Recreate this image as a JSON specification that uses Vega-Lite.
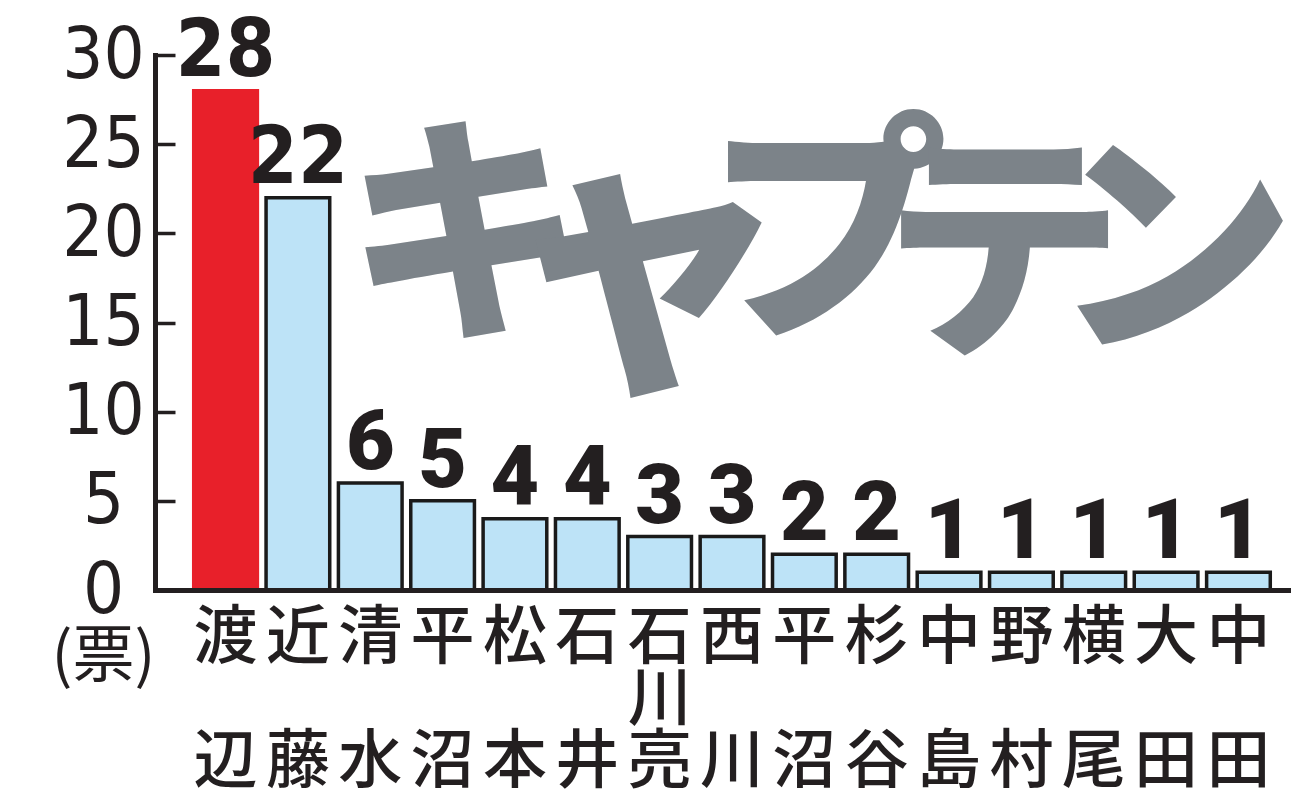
{
  "$schema": "https://vega.github.io/schema/vega-lite/v6.json",
  "width": 1133,
  "height": 535,
  "autosize": "none",
  "padding": {"left": 155, "top": 55, "right": 12, "bottom": 213},
  "background": "white",
  "config": {"view": {"stroke": null}},
  "datasets": {
    "votes": [
      {"name": "渡辺", "votes": 28},
      {"name": "近藤", "votes": 22},
      {"name": "清水", "votes": 6},
      {"name": "平沼", "votes": 5},
      {"name": "松本", "votes": 4},
      {"name": "石井", "votes": 4},
      {"name": "石川亮", "votes": 3},
      {"name": "西川", "votes": 3},
      {"name": "平\u200b沼", "votes": 2},
      {"name": "杉谷", "votes": 2},
      {"name": "中島", "votes": 1},
      {"name": "野村", "votes": 1},
      {"name": "横尾", "votes": 1},
      {"name": "大田", "votes": 1},
      {"name": "中田", "votes": 1}
    ],
    "heading": [
      {"char": "キ", "col": 4.3, "level": 19.2},
      {"char": "ャ", "col": 6.8, "level": 17.6},
      {"char": "プ", "col": 9.29, "level": 19.3},
      {"char": "テ", "col": 11.72, "level": 18.3},
      {"char": "ン", "col": 14.08, "level": 18.5}
    ]
  },
  "layer": [
    {
      "data": {"name": "heading"},
      "mark": {
        "type": "text",
        "font": "Noto Sans CJK JP",
        "fontWeight": 900,
        "color": "#7c8389",
        "baseline": "middle",
        "align": "center"
      },
      "encoding": {
        "x": {"field": "col", "type": "quantitative", "scale": {"domain": [0, 15.66], "nice": false, "zero": false}, "axis": null},
        "y": {"field": "level", "type": "quantitative"},
        "text": {"field": "char"},
        "size": {"condition": {"test": "datum.char === 'ャ'", "value": 295}, "value": 242}
      }
    },
    {
      "data": {"name": "votes"},
      "encoding": {
        "x": {
          "field": "name",
          "type": "nominal",
          "sort": null,
          "scale": {"paddingInner": 0.12, "paddingOuter": 0.39, "align": 0.686},
          "axis": {
            "title": null,
            "ticks": false,
            "domainColor": "#231f20",
            "domainWidth": 5,
            "domainCap": "square",
            "labelAngle": 0,
            "labelFont": "Noto Sans CJK JP",
            "labelFontWeight": 500,
            "labelFontSize": 64,
            "labelColor": "#231f20",
            "labelLineHeight": 62,
            "labelBaseline": "top",
            "labelPadding": 16,
            "labelOverlap": false,
            "labelBound": false,
            "labelFlush": false,
            "labelExpr": "[substring(datum.label, 0, 1), length(datum.label) > 2 ? substring(datum.label, 1, 2) : '\u200b', substring(datum.label, length(datum.label) - 1)]",
            "zindex": 1
          }
        },
        "y": {
          "field": "votes",
          "type": "quantitative",
          "scale": {"domain": [0, 30], "nice": false},
          "axis": {
            "values": [0, 5, 10, 15, 20, 25, 30],
            "grid": false,
            "title": "(票)",
            "titleAngle": 0,
            "titleX": -52,
            "titleY": 602,
            "titleAlign": "center",
            "titleBaseline": "middle",
            "titleFont": "Noto Sans CJK JP",
            "titleFontWeight": "normal",
            "titleFontSize": 62,
            "titleColor": "#231f20",
            "domainColor": "#231f20",
            "domainWidth": 5,
            "domainCap": "square",
            "tickColor": "#231f20",
            "tickWidth": 3.5,
            "tickSize": -20,
            "labelFont": "DejaVu Sans Condensed, sans-serif",
            "labelFontWeight": "normal",
            "labelFontSize": 72,
            "labelColor": "#231f20",
            "labelAlign": "center",
            "labelBaseline": "middle",
            "labelPadding": 72,
            "labelBound": false,
            "labelFlush": false,
            "labelOverlap": false,
            "zindex": 1
          }
        }
      },
      "layer": [
        {
          "mark": {"type": "bar", "strokeWidth": 3.5},
          "encoding": {
            "color": {"condition": {"test": "datum.name === '渡辺'", "value": "#e8202a"}, "value": "#bde3f7"},
            "stroke": {"condition": {"test": "datum.name === '渡辺'", "value": "#e8202a"}, "value": "#1a1a1a"}
          }
        },
        {
          "transform": [{"filter": "datum.votes >= 10"}],
          "mark": {
            "type": "text",
            "font": "DejaVu Sans Condensed, sans-serif",
            "fontWeight": "bold",
            "fontSize": 80,
            "baseline": "alphabetic",
            "dy": -15,
            "color": "#231f20"
          },
          "encoding": {"text": {"field": "votes"}}
        },
        {
          "transform": [{"filter": "datum.votes < 10"}],
          "mark": {
            "type": "text",
            "font": "Roboto",
            "fontWeight": 900,
            "fontSize": 84,
            "baseline": "alphabetic",
            "dy": -14,
            "color": "#231f20"
          },
          "encoding": {"text": {"field": "votes"}}
        }
      ]
    }
  ],
  "resolve": {"scale": {"x": "independent"}}
}
